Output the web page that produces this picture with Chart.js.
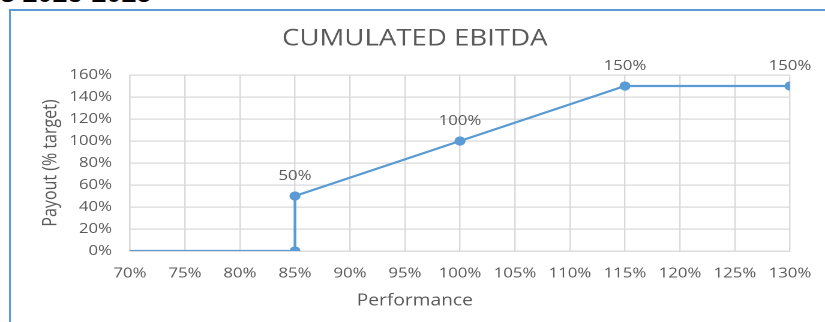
<!DOCTYPE html>
<html>
<head>
<meta charset="utf-8">
<script src="https://cdn.jsdelivr.net/npm/chart.js@4.4.1/dist/chart.umd.min.js"></script>
<style>
  html, body { margin: 0; padding: 0; background: #fff; overflow: hidden; }
  body { width: 825px; height: 322px; position: relative; }
  #heading { position: absolute; left: 0; top: -22.5px; line-height: 27px; font: bold 27px "Liberation Sans", sans-serif; color: #000; white-space: nowrap; }
  #frame { position: absolute; left: 9px; top: 9px; right: -4px; bottom: -4px; border-left: 2px solid #5b9bd5; border-top: 2px solid #5b9bd5; }
  /* the source picture is stretched sideways, so the chart is drawn narrower and widened */
  #wrap { position: absolute; left: 0; top: 0; width: 688px; height: 322px; transform: scaleX(1.2); transform-origin: 0 0; }
</style>
</head>
<body>
<div id="heading">s 2023-2025</div>
<div id="frame"></div>
<div id="wrap"><canvas id="chart" width="688" height="322"></canvas></div>
<script>
const performance = [70, 85, 85, 100, 115, 130];
const payout = [0, 0, 50, 100, 150, 150];
const pointLabels = ['', '', '50%', '100%', '150%', '150%'];
const showMarker = [false, true, true, true, true, true];

const xMin = 70, xMax = 130, xStep = 5;
const yMin = 0, yMax = 160, yStep = 20;

const blue = '#5b9bd5';
const textGray = '#595959';
const gridGray = '#d9d9d9';
const font = '"Open Sans", "Noto Sans", sans-serif';

const pointLabelPlugin = {
  id: 'pointLabels',
  afterDatasetsDraw(chart) {
    const ctx = chart.ctx;
    const meta = chart.getDatasetMeta(0);
    ctx.save();
    ctx.font = `14px ${font}`;
    ctx.fillStyle = textGray;
    ctx.textAlign = 'center';
    ctx.textBaseline = 'middle';
    meta.data.forEach((pt, i) => {
      if (pointLabels[i]) ctx.fillText(pointLabels[i], pt.x, pt.y - 20);
    });
    ctx.restore();
  },
};

function draw() {
  new Chart(document.getElementById('chart'), {
    type: 'line',
    data: {
      datasets: [{
        data: performance.map((x, i) => ({ x, y: payout[i] })),
        borderColor: blue,
        borderWidth: 2.25,
        pointRadius: showMarker.map((m) => (m ? 4.6 : 0)),
        pointBackgroundColor: blue,
        pointBorderWidth: 0,
        tension: 0,
      }],
    },
    options: {
      responsive: false,
      animation: false,
      devicePixelRatio: 2,
      layout: { padding: { top: 5, left: 33, right: 29.7, bottom: 0 } },
      plugins: {
        legend: { display: false },
        tooltip: { enabled: false },
        title: {
          display: true,
          text: 'CUMULATED EBITDA',
          color: textGray,
          font: { family: font, size: 23, weight: 'normal' },
          padding: { top: 20, bottom: 22.4 },
        },
        subtitle: {
          display: true,
          position: 'bottom',
          text: 'Performance',
          color: textGray,
          font: { family: font, size: 16, weight: 'normal' },
          padding: { top: 10.4, bottom: 11.4 },
        },
      },
      scales: {
        x: {
          type: 'linear',
          min: xMin,
          max: xMax,
          afterFit: (scale) => {
            scale.height = 30;
            scale.paddingLeft = 0;
            scale.paddingRight = 0;
          },
          ticks: { stepSize: xStep, padding: 14, color: textGray, font: { family: font, size: 14 }, callback: (v) => `${v}%` },
          grid: { color: gridGray, lineWidth: 1.2, drawTicks: false },
          border: { color: gridGray, width: 1.2 },
        },
        y: {
          min: yMin,
          max: yMax,
          afterFit: (scale) => { scale.width = 75.3; },
          ticks: { stepSize: yStep, padding: 15, color: textGray, font: { family: font, size: 14 }, callback: (v) => `${v}%` },
          grid: { color: gridGray, lineWidth: 1.2, drawTicks: false },
          border: { color: gridGray, width: 1.2 },
          title: {
            display: true,
            text: 'Payout (% target)',
            color: textGray,
            font: { family: font, size: 16 },
            padding: { top: 0, bottom: 0 },
          },
        },
      },
    },
    plugins: [pointLabelPlugin],
  });
}

document.fonts.load(`14px ${font}`).then(draw, draw);
</script>
</body>
</html>
